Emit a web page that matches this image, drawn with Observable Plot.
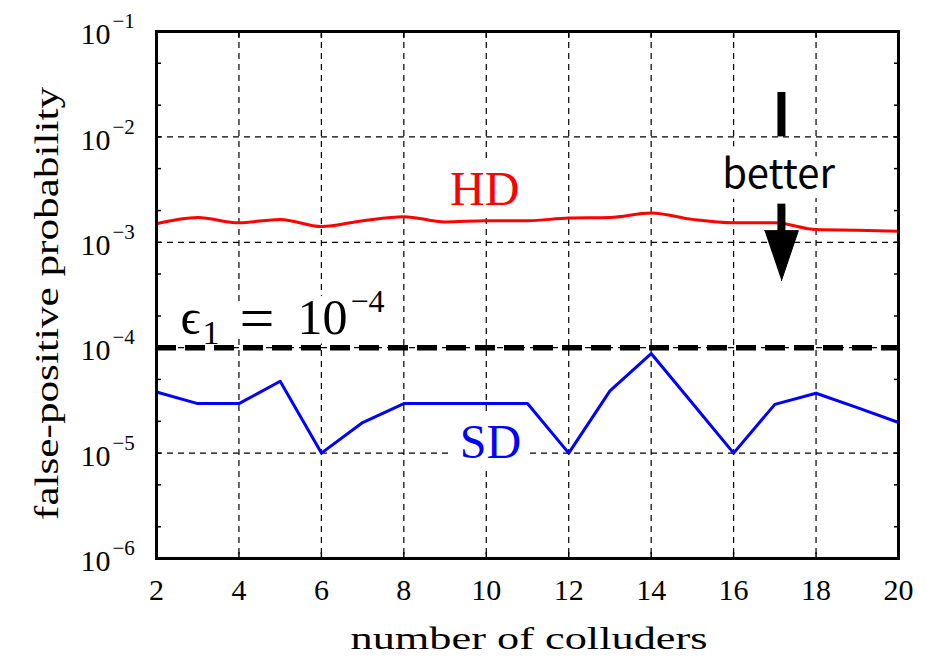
<!DOCTYPE html>
<html><head><meta charset="utf-8">
<script src="https://cdn.jsdelivr.net/npm/d3@7"></script>
<script src="https://cdn.jsdelivr.net/npm/@observablehq/plot@0.6"></script>
<style>html,body{margin:0;padding:0;background:#fff}</style>
</head><body><div id="chart"></div>
<script>
// ---- data ----
const colluders = [2,3,4,5,6,7,8,9,10,11,12,13,14,15,16,17,18,19,20];
const hdValues = [1.5e-3,1.72e-3,1.53e-3,1.65e-3,1.41e-3,1.6e-3,1.75e-3,1.56e-3,1.6e-3,1.6e-3,1.7e-3,1.72e-3,1.9e-3,1.65e-3,1.53e-3,1.53e-3,1.32e-3,1.3e-3,1.27e-3];
const sdValues = [3.8e-5,2.95e-5,2.95e-5,4.8e-5,1e-5,1.95e-5,2.95e-5,2.95e-5,2.95e-5,2.95e-5,1e-5,3.9e-5,8.8e-5,2.97e-5,1e-5,2.9e-5,3.7e-5,2.7e-5,1.95e-5];
const threshold = [1e-4];
const xTicks = [2,4,6,8,10,12,14,16,18,20];
const yTicks = [1e-1,1e-2,1e-3,1e-4,1e-5,1e-6];
const yExponents = ["−1","−2","−3","−4","−5","−6"];
const minorMultipliers = [2,5];
const xTitle = "number of colluders";
const yTitle = "false-positive probability";
// annotations (data coordinates)
const hdLabel = [{x:9.96, y:2.28e-3, text:"HD"}];
const sdLabel = [{x:10.1, y:8.9e-6, text:"SD"}];
const epsAnchor = [{x:2.58, y:1.36e-4}];
const betterLabel = [{x:17.09, y:3.3e-3, text:"better"}];
const arrowBar = [{x:17.16, y1:2.64e-2, y2:1e-2}];
const arrowShaft = [{x:17.16, y1:2.3e-3, y2:1.25e-3}];
const arrowHead = [{x:16.75, y:1.29e-3},{x:17.57, y:1.29e-3},{x:17.16, y:4.33e-4}];

// ---- derived tables ----
const hdData = colluders.map((c,i)=>({x:c, y:hdValues[i]}));
const sdData = colluders.map((c,i)=>({x:c, y:sdValues[i]}));
const minorY = yTicks.slice(0,-1).flatMap(d => minorMultipliers.map(m => m*d/10));
const allY = yTicks.concat(minorY);

const serif = "'Liberation Serif','Times New Roman',serif";
const dash = {stroke:"black", strokeOpacity:1, strokeWidth:1.2, strokeDasharray:"6,5"};

const plot = Plot.plot({
  width:933, height:657,
  marginLeft:156, marginRight:35, marginTop:31, marginBottom:99,
  style:{background:"white", fontFamily:serif, color:"black"},
  x:{domain:[2,20], label:null},
  y:{type:"log", domain:[1e-6,1e-1], label:null},
  marks:[
    Plot.gridX(xTicks.slice(1,-1), dash),
    Plot.gridY(yTicks.slice(1,-1), dash),
    // labels with white halos
    Plot.text(hdLabel, {x:"x", y:"y", text:"text", fill:"red", stroke:"white", strokeWidth:24, paintOrder:"stroke", fontSize:48, fontFamily:serif, lineAnchor:"bottom"}),
    Plot.text(sdLabel, {x:"x", y:"y", text:"text", fill:"blue", stroke:"white", strokeWidth:24, paintOrder:"stroke", fontSize:48, fontFamily:serif, lineAnchor:"bottom"}),
    Plot.text(betterLabel, {x:"x", y:"y", text:"text", fill:"black", stroke:"white", strokeWidth:20, paintOrder:"stroke", fontSize:40, fontFamily:"'Noto Sans CJK JP','Noto Sans',sans-serif", lineAnchor:"bottom"}),
    Plot.text(epsAnchor, {x:"x", y:"y", text:()=>"ϵ", textAnchor:"start", lineAnchor:"bottom", fontSize:50, fontFamily:serif, stroke:"white", strokeWidth:20, paintOrder:"stroke", fill:"black"}),
    Plot.text(epsAnchor, {x:"x", y:"y", text:()=>"1", textAnchor:"start", lineAnchor:"bottom", dx:22, dy:10, fontSize:34, fontFamily:serif, stroke:"white", strokeWidth:16, paintOrder:"stroke", fill:"black"}),
    Plot.text(epsAnchor, {x:"x", y:"y", text:()=>"=", textAnchor:"start", lineAnchor:"bottom", dx:59, dy:5, fontSize:62, fontFamily:serif, stroke:"white", strokeWidth:20, paintOrder:"stroke", fill:"black"}),
    Plot.text(epsAnchor, {x:"x", y:"y", text:()=>"10", textAnchor:"start", lineAnchor:"bottom", dx:117, dy:0, fontSize:50, fontFamily:serif, stroke:"white", strokeWidth:20, paintOrder:"stroke", fill:"black"}),
    Plot.text(epsAnchor, {x:"x", y:"y", text:()=>"−4", textAnchor:"start", lineAnchor:"bottom", dx:170, dy:-22, fontSize:32, fontFamily:serif, stroke:"white", strokeWidth:16, paintOrder:"stroke", fill:"black"}),
    // data lines
    Plot.line(hdData, {x:"x", y:"y", stroke:"red", strokeWidth:3, curve:"monotone-x"}),
    Plot.line(sdData, {x:"x", y:"y", stroke:"blue", strokeWidth:3}),
    Plot.ruleY(threshold, {stroke:"black", strokeWidth:5.5, strokeDasharray:"20,9"}),
    // arrow
    Plot.ruleX(arrowBar, {x:"x", y1:"y1", y2:"y2", stroke:"black", strokeWidth:8}),
    Plot.ruleX(arrowShaft, {x:"x", y1:"y1", y2:"y2", stroke:"black", strokeWidth:8}),
    Plot.line(arrowHead, {x:"x", y:"y", fill:"black", stroke:"black", strokeWidth:1}),
    // frame & axes
    Plot.frame({stroke:"black", strokeWidth:3}),
    Plot.axisX(xTicks, {anchor:"bottom", tickSize:-6, tickFormat:()=>"", strokeWidth:1.5}),
    Plot.axisX(xTicks, {anchor:"top", tickSize:-6, tickFormat:()=>"", strokeWidth:1.5}),
    Plot.axisX(xTicks, {anchor:"bottom", tickSize:0, tickPadding:20, fontSize:30, fontFamily:serif, tickFormat:d=>String(d)}),
    Plot.axisY(allY, {anchor:"left", tickSize:-5, tickFormat:()=>"", strokeWidth:1.5}),
    Plot.axisY(allY, {anchor:"right", tickSize:-5, tickFormat:()=>"", strokeWidth:1.5}),
    Plot.text(yTicks, {y:d=>d, text:()=>"10", frameAnchor:"left", textAnchor:"end", dx:-46, dy:3, fontSize:30, fontFamily:serif, fill:"black"}),
    Plot.text(yTicks, {y:d=>d, text:(d,i)=>yExponents[i], frameAnchor:"left", textAnchor:"start", dx:-44, dy:-10, fontSize:21, fontFamily:serif, fill:"black"}),
    Plot.text([xTitle], {text:d=>d, frameAnchor:"bottom", textAnchor:"start", lineAnchor:"bottom", dx:-177, dy:90, fontSize:31, fontFamily:serif, fill:"black"}),
    Plot.text([yTitle], {text:d=>d, frameAnchor:"left", textAnchor:"start", lineAnchor:"middle", rotate:-90, dx:-109, dy:225, fontSize:33, fontFamily:serif, fill:"black"})
  ]
});
document.getElementById("chart").appendChild(plot);
const svg = d3.select(plot);
svg.selectAll("text").filter(function(){return this.textContent === xTitle;})
  .attr("textLength", 357).attr("lengthAdjust","spacingAndGlyphs");
svg.selectAll("text").filter(function(){return this.textContent === yTitle;})
  .attr("textLength", 433).attr("lengthAdjust","spacingAndGlyphs");
</script>
</body></html>
